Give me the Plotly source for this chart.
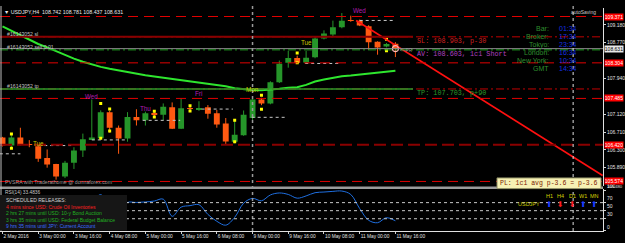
import plotly.graph_objects as go

# ---------------- data ----------------
day_hours = [("2 May", [8, 12, 16, 20]), ("3 May", [0, 4, 8, 12, 16, 20]), ("4 May", [0, 4, 8, 12, 16, 20]),
             ("5 May", [0, 4, 8, 12, 16, 20]), ("6 May", [0, 4, 8, 12, 16, 20]), ("9 May", [0, 4, 8, 12, 16, 20]),
             ("10 May", [0, 4, 8, 12, 16, 20]), ("11 May", [0, 4, 8, 12, 16])]
bar_times = [f"{d} {h:02d}:00" for d, hs in day_hours for h in hs]
idx = list(range(len(bar_times)))

opens = [106.586, 106.400, 106.586, 106.430, 106.384, 106.115, 105.973, 105.688, 106.002, 106.287,
         106.548, 106.570, 107.169, 106.810, 106.564, 107.057, 106.983, 107.146, 107.108, 107.281,
         106.787, 107.262, 107.240, 107.281, 107.146, 106.906, 106.489, 106.637, 107.034, 107.460,
         107.370, 107.857, 108.306, 108.418, 108.310, 108.431, 108.866, 108.956, 109.126, 109.280,
         109.276, 109.148, 108.790, 108.678, 108.742]
highs = [106.600, 106.640, 106.810, 106.525, 106.400, 106.310, 105.980, 106.047, 106.361, 106.675,
         107.460, 107.210, 107.200, 106.861, 107.169, 107.236, 107.180, 107.170, 107.370, 107.393,
         107.483, 107.300, 107.420, 107.332, 107.220, 107.034, 106.990, 107.207, 107.500, 107.500,
         107.880, 108.357, 108.581, 108.470, 108.580, 108.900, 109.052, 109.276, 109.450, 109.390,
         109.300, 109.170, 108.800, 108.760, 108.781]
lows = [106.380, 106.370, 106.406, 106.361, 106.025, 105.890, 105.615, 105.650, 105.861, 106.137,
        106.540, 106.555, 106.698, 106.211, 106.489, 106.861, 106.861, 107.080, 106.983, 106.780,
        106.780, 107.220, 107.200, 107.018, 106.810, 106.413, 106.451, 106.624, 106.990, 107.330,
        107.350, 107.840, 108.193, 108.280, 108.280, 108.410, 108.844, 108.902, 109.100, 109.250,
        109.150, 108.604, 108.492, 108.660, 108.437]
closes = [106.400, 106.586, 106.413, 106.420, 106.099, 105.964, 105.688, 106.002, 106.287, 106.548,
          106.586, 107.169, 106.810, 106.564, 107.057, 106.983, 107.146, 107.108, 107.296, 106.787,
          107.258, 107.250, 107.260, 107.131, 106.884, 106.496, 106.646, 107.108, 107.460, 107.370,
          107.857, 108.283, 108.418, 108.306, 108.420, 108.866, 108.978, 109.126, 109.276, 109.270,
          109.164, 108.776, 108.655, 108.738, 108.631]

ma_values = [109.142, 109.040, 108.940, 108.839, 108.738, 108.660, 108.570, 108.480, 108.402, 108.328,
             108.268, 108.211, 108.166, 108.126, 108.088, 108.054, 108.021, 107.992, 107.965, 107.938,
             107.909, 107.875, 107.853, 107.830, 107.797, 107.763, 107.718, 107.696, 107.678, 107.673,
             107.684, 107.707, 107.729, 107.745, 107.797, 107.875, 107.920, 107.965, 107.998, 108.010,
             108.032, 108.054, 108.077, 108.099, 108.121]

rsi_values = [40, 45, 48, 42, 30, 25, 20, 32, 45, 55,
              70, 90, 60, 50, 70.5, 70.5, 71.7, 74.0, 78.7, 36.0,
              58.8, 62.5, 64.9, 40.7, 23.7, 14.0, 33.4, 68.5, 80.6, 74.6,
              89.1, 94.0, 90.3, 81.1, 86.7, 94.7, 96.4, 98.0, 98.8, 90.3,
              55.2, 26.2, 20.1, 32.7, 24.9]

dot_idx = [1, 1, 11, 11, 12, 12, 17, 17, 21, 21, 26, 26, 29, 29, 33, 33, 43, 43]
dot_price = [106.668, 106.339, 107.370, 106.570, 107.243, 106.736, 107.191, 107.057, 107.319, 107.198,
             106.983, 106.489, 107.557, 107.236, 108.530, 108.306, 108.850, 108.581]

# daily reference dotted segments: (start idx, end idx, price)
day_levels = [(-0.3, 2.0, 106.21), (4.0, 7.9, 106.40), (10.0, 13.9, 106.53), (15.7, 19.9, 106.98),
              (22.3, 25.8, 107.24), (27.9, 31.9, 107.05), (33.9, 37.8, 108.29), (40.0, 43.7, 109.28)]

day_labels = [(4, 106.44, "Tue", "#c8c800"), (10, 107.53, "Wed", "#b21cb2"), (16, 107.26, "Thu", "#b21cb2"),
              (22, 107.59, "Fri", "#b21cb2"), (28, 107.70, "Mon", "#c8c800"), (34, 108.78, "Tue", "#c8c800"),
              (40, 109.51, "Wed", "#b21cb2")]

red_levels = [109.371, 108.304, 107.485, 105.574]
sl_price, open_price, bid_price, tp_price, dark_level = 108.903, 108.603, 108.631, 107.703, 106.420
trend_idx = [39.6, 67.2]
trend_price = [109.28, 105.71]

price_ticks = [109.180, 108.770, 107.940, 107.120, 106.710, 106.300, 105.890]
low_tick = 105.480
rsi_ticks = [100, 70, 50, 30, 0]
x_tick_idx = [0, 4, 8, 12, 16, 20, 24, 28, 32, 36, 40, 44]
x_tick_text = ["2 May 2016", "3 May 00:00", "3 May 16:00", "4 May 08:00", "5 May 00:00", "5 May 16:00",
               "6 May 08:00", "9 May 00:00", "9 May 16:00", "10 May 08:00", "11 May 00:00", "11 May 16:00"]

clock_names = ["Bar:", "Broker:", "Tokyo:", "London:", "New York:", "GMT"]
clock_times = ["01:34", "17:34", "23:34", "16:34", "10:34", "14:34"]

releases = [("SCHEDULED RELEASES:", "#d0d0d0"),
            ("4 mins since USD: Crude Oil Inventories", "#ff2020"),
            ("2 hrs 27 mins until USD: 10-y Bond Auction", "#22b022"),
            ("3 hrs 35 mins until USD: Federal Budget Balance", "#22b022"),
            ("9 hrs 35 mins until JPY: Current Account", "#3a6cff")]

tf_names = ["H1", "H4", "D1", "W1", "MN"]
tf_up = [True, False, False, True, True]

# ---------------- figure ----------------
W, H = 625, 243
PW, PH = 603, 231
SANS = "Liberation Sans"
MONO = "Liberation Mono"
GREEN = "#26962a"
ORANGE = "#ff5a12"


def px(x):
    return x / PW


def py(y):
    return 1 - y / PH


fig = go.Figure()

# candle wicks
for up, col in ((True, GREEN), (False, ORANGE)):
    wx, wy = [], []
    for i in idx:
        if (closes[i] >= opens[i]) == up:
            wx += [i, i, None]
            wy += [lows[i], highs[i], None]
    fig.add_trace(go.Scatter(x=wx, y=wy, mode="lines", line=dict(color=col, width=1),
                             xaxis="x", yaxis="y", showlegend=False, hoverinfo="skip"))

# candle bodies
body_base = [min(o, c) for o, c in zip(opens, closes)]
body_len = [max(abs(c - o), 0.014) for o, c in zip(opens, closes)]
body_col = [GREEN if c >= o else ORANGE for o, c in zip(opens, closes)]
fig.add_trace(go.Bar(x=idx, y=body_len, base=body_base, width=0.66, marker=dict(color=body_col, line=dict(width=0)),
                     xaxis="x", yaxis="y", showlegend=False, hoverinfo="skip"))

fig.add_trace(go.Scatter(x=idx, y=ma_values, mode="lines", line=dict(color="#2ee62e", width=2),
                         xaxis="x", yaxis="y", showlegend=False, hoverinfo="skip"))

sx, sy = [], []
for a, b, p in day_levels:
    sx += [a, b, None]
    sy += [p, p, None]
fig.add_trace(go.Scatter(x=sx, y=sy, mode="lines", line=dict(color="#c8c8c8", width=1, dash="dot"),
                         xaxis="x", yaxis="y", showlegend=False, hoverinfo="skip"))

fig.add_trace(go.Scatter(x=dot_idx, y=dot_price, mode="markers",
                         marker=dict(symbol="square", size=3, color="#ffff00", line=dict(width=0)),
                         xaxis="x", yaxis="y", showlegend=False, hoverinfo="skip"))

fig.add_trace(go.Scatter(x=trend_idx, y=trend_price, mode="lines", line=dict(color="#ff1010", width=1.6),
                         xaxis="x", yaxis="y", showlegend=False, hoverinfo="skip"))

fig.add_trace(go.Scatter(x=[idx[-1]], y=[closes[-1]], mode="markers",
                         marker=dict(symbol="circle-open", size=6, color="#ffb8b8", line=dict(width=1.2)),
                         xaxis="x", yaxis="y", showlegend=False, hoverinfo="skip"))

fig.add_trace(go.Scatter(x=idx, y=rsi_values, mode="lines", line=dict(color="#1f6fe0", width=1, shape="spline"),
                         xaxis="x", yaxis="y2", showlegend=False, hoverinfo="skip"))

shapes = []
for p in red_levels:
    shapes.append(dict(type="line", xref="paper", x0=0, x1=1, yref="y", y0=p, y1=p,
                       line=dict(color="#e00000", width=1, dash="10px,6px")))
shapes.append(dict(type="line", xref="paper", x0=0, x1=1, yref="y", y0=dark_level, y1=dark_level,
                   line=dict(color="#8a0000", width=2, dash="12px,5px")))
for p in (sl_price, tp_price):
    shapes.append(dict(type="line", xref="paper", x0=0, x1=1, yref="y", y0=p, y1=p,
                       line=dict(color="#c00000", width=1, dash="8px,3px,2px,3px")))
shapes.append(dict(type="line", xref="paper", x0=0, x1=px(413), yref="y", y0=sl_price, y1=sl_price,
                   line=dict(color="#8a0000", width=2)))
shapes.append(dict(type="line", xref="paper", x0=0, x1=px(413), yref="y", y0=tp_price, y1=tp_price,
                   line=dict(color="#2a9a2a", width=1.5)))
shapes.append(dict(type="line", xref="paper", x0=0, x1=1, yref="y", y0=bid_price, y1=bid_price,
                   line=dict(color="#8c8c8c", width=1)))
shapes.append(dict(type="line", xref="paper", x0=0, x1=1, yref="y", y0=open_price, y1=open_price,
                   line=dict(color="#1e9e1e", width=1, dash="8px,3px,2px,3px")))
shapes.append(dict(type="line", xref="x", x0=28, x1=28, yref="paper", y0=0, y1=1,
                   line=dict(color="#9a9a9a", width=1.5, dash="dot")))
shapes.append(dict(type="line", xref="x", x0=63.9, x1=63.9, yref="paper", y0=0, y1=1,
                   line=dict(color="#e0e0e0", width=1, dash="dot")))
for lv in (70, 50, 30):
    shapes.append(dict(type="line", xref="paper", x0=0, x1=1, yref="y2", y0=lv, y1=lv,
                       line=dict(color="#c8c8c8", width=1, dash="dot")))
shapes.append(dict(type="rect", xref="paper", x0=0, x1=1, yref="paper", y0=py(188), y1=py(185.3),
                   fillcolor="#9a9a9a", line=dict(width=0)))
shapes.append(dict(type="line", xref="paper", x0=px(1), x1=px(1), yref="paper", y0=0, y1=1,
                   line=dict(color="#bdbdbd", width=1)))
shapes.append(dict(type="rect", xref="paper", x0=0, x1=px(127), yref="paper", y0=py(230.5), y1=py(194),
                   fillcolor="#161616", line=dict(width=0), layer="above"))
shapes.append(dict(type="rect", xref="paper", x0=px(497), x1=px(601), yref="paper", y0=py(187.5), y1=py(176.5),
                   fillcolor="#f6f1b4", line=dict(color="#8a8a60", width=1), layer="above"))

ann = []


def text(xp, yp, t, color, size, xanchor="left", family=SANS, **kw):
    ann.append(dict(x=px(xp), y=py(yp), xref="paper", yref="paper", text=t, showarrow=False,
                    font=dict(color=color, size=size, family=family), xanchor=xanchor, yanchor="middle", **kw))


text(2, 5.7, "▼ USDJPY,H4  108.742 108.781 108.437 108.631", "#e8e8e8", 5.3)
text(5, 28.3, "#16143052 sl", "#c0c0c0", 5.2)
text(5, 41.7, "#16143052 sell 0.01", "#c0c0c0", 5.2)
text(5, 81.7, "#16143052 tp", "#c0c0c0", 5.2)
text(3, 181, "PVSRA with Traderathome @ donnaforex.com", "#9a9a9a", 5.2)
text(598, 6, "autoSaving", "#c8c8c8", 5, xanchor="right")

for k, (nm, tm) in enumerate(zip(clock_names, clock_times)):
    yy = 23.3 + k * 8.2
    text(551, yy, nm, "#2f8f2f", 7, xanchor="right")
    text(557, yy, tm, "#1530e0", 7)

text(415, 36, "SL: 108.903, p-30", "#d02020", 6.8, family=MONO)
text(415, 49.3, "AV: 108.603, 1c1 Short", "#b040c0", 6.8, family=MONO)
text(398, 46, "<--PR", "#9a9a9a", 4.5)
text(415, 89.3, "TP: 107.703, p+90", "#2a9a2a", 6.8, family=MONO)
text(549, 182, "PL: 1c1 avg p-3.6 = p-3.6", "#7a1a00", 6.5, xanchor="center", family=MONO)

text(3, 191, "RSI(14) 33.4836", "#c8c8c8", 4.8)
for k, (t, c) in enumerate(releases):
    text(4, 199.3 + k * 6.7, t, c, 5)

tf_x = [549, 560, 572, 583, 594]
for k, nm in enumerate(tf_names):
    text(tf_x[k], 195, nm, "#d4d400", 5.5, xanchor="center")
    ann.append(dict(x=px(tf_x[k]), y=py(203.5), xref="paper", yref="paper",
                    text="⬆" if tf_up[k] else "⬇", showarrow=False,
                    font=dict(color="#1a3cff" if tf_up[k] else "#ff1a1a", size=8, family="DejaVu Sans"),
                    xanchor="center", yanchor="middle"))
text(542, 203.5, "USDJPY", "#c8c800", 5.5, xanchor="right")

for i, p, t, c in day_labels:
    ann.append(dict(x=i, y=p, xref="x", yref="y", text=t, showarrow=False,
                    font=dict(color=c, size=6.3, family=SANS), xanchor="center", yanchor="middle"))

for p, bg, fg in [(109.371, "#ff0000", "#ffffff"), (bid_price, "#e8e8e8", "#000000"),
                  (108.304, "#ff0000", "#ffffff"), (107.485, "#ff0000", "#ffffff"),
                  (dark_level, "#ff0000", "#ffffff"), (105.574, "#ff0000", "#ffffff")]:
    ann.append(dict(x=1, y=p, xref="paper", yref="y", text=f"{p:.3f}", showarrow=False,
                    font=dict(color=fg, size=5, family=SANS), xanchor="left", yanchor="middle",
                    xshift=1, bgcolor=bg, borderpad=0, width=18))
# lowest price tick, squeezed just below the highlighted label as in the original
ann.append(dict(x=1, y=low_tick, xref="paper", yref="y", text=f"{low_tick:.3f}", showarrow=False,
                font=dict(color="#e0e0e0", size=4.2, family=SANS), xanchor="left", yanchor="middle",
                xshift=3, yshift=-1.3, borderpad=0))

fig.update_layout(
    width=W, height=H, margin=dict(l=0, r=22, t=0, b=12),
    paper_bgcolor="#000000", plot_bgcolor="#000000",
    showlegend=False, shapes=shapes, annotations=ann, barmode="overlay",
    xaxis=dict(domain=[0, 1], anchor="y2", range=[-0.28, 67.245],
               tickmode="array", tickvals=x_tick_idx, ticktext=x_tick_text, ticks="outside", ticklen=2,
               tickcolor="#d0d0d0", ticklabelposition="outside right", tickangle=0,
               tickfont=dict(color="#e0e0e0", size=4.8, family=SANS),
               showgrid=False, zeroline=False, showline=True, linecolor="#e0e0e0", linewidth=1),
    yaxis=dict(domain=[py(185), py(2)], anchor="x", range=[105.4644, 109.568], side="right",
               tickmode="array", tickvals=price_ticks, ticktext=[f"{v:.3f}" for v in price_ticks],
               ticks="outside", ticklen=2, tickcolor="#d0d0d0",
               tickfont=dict(color="#e0e0e0", size=5, family=SANS),
               showgrid=False, zeroline=False, showline=True, linecolor="#e0e0e0", linewidth=1),
    yaxis2=dict(domain=[0, py(188)], anchor="x", range=[-0.48, 103.6], side="right",
                tickmode="array", tickvals=rsi_ticks, ticktext=[str(v) for v in rsi_ticks],
                ticks="outside", ticklen=2, tickcolor="#d0d0d0", ticklabelshift=-4,
                tickfont=dict(color="#e0e0e0", size=5, family=SANS),
                showgrid=False, zeroline=False, showline=True, linecolor="#e0e0e0", linewidth=1),
)

fig.write_html("out.html")
